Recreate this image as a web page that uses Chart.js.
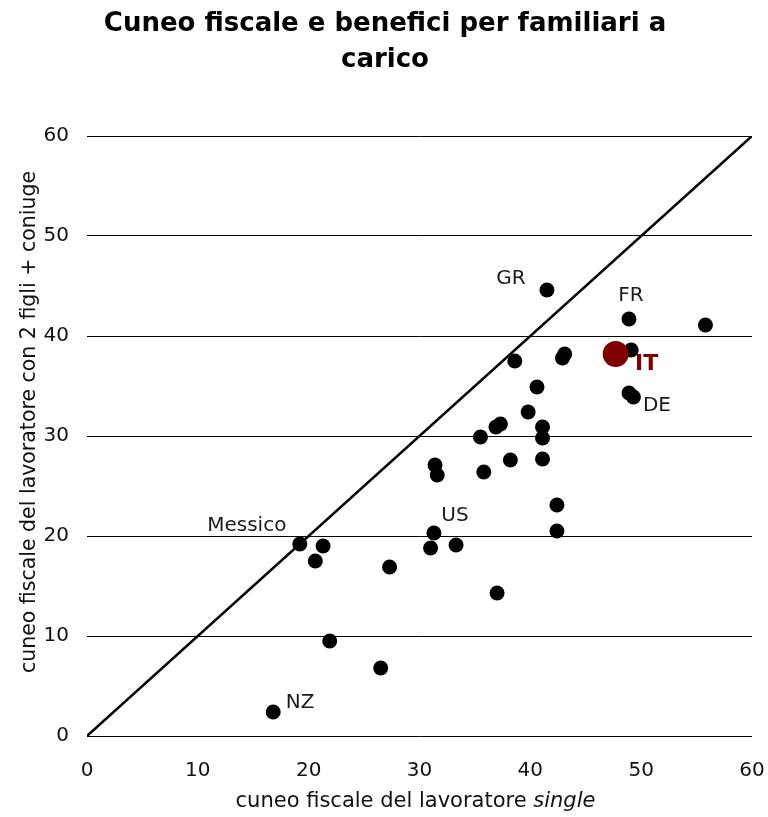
<!DOCTYPE html>
<html>
<head>
<meta charset="utf-8">
<script src="https://cdn.jsdelivr.net/npm/chart.js@4.4.1/dist/chart.umd.min.js"></script>
<style>
html,body{margin:0;padding:0;background:#fff;}
#wrap{width:768px;height:817px;position:relative;}
</style>
</head>
<body>
<div id="wrap"><canvas id="c" width="768" height="817"></canvas></div>
<script>
// Data: x = cuneo fiscale lavoratore single, y = cuneo fiscale lavoratore con 2 figli + coniuge
const countryX = [16.8, 21.9, 26.5, 19.2, 21.3, 20.6, 27.3, 31.3, 31.0, 33.3, 37.0, 42.4, 42.4,
  31.4, 31.6, 35.5, 35.8, 36.9, 37.3, 38.2, 39.8, 40.6, 38.6, 41.1, 41.1, 41.1, 42.9, 43.1,
  41.5, 48.9, 55.8, 49.1, 48.9, 49.3];
const countryY = [2.4, 9.5, 6.8, 19.2, 19.0, 17.5, 16.9, 20.3, 18.8, 19.1, 14.3, 23.1, 20.5,
  27.1, 26.1, 29.9, 26.4, 30.9, 31.2, 27.6, 32.4, 34.9, 37.5, 30.9, 29.8, 27.7, 37.8, 38.2,
  44.6, 41.7, 41.1, 38.6, 34.3, 33.9];
const countryLabels = ["NZ", "", "", "Messico", "", "", "", "US", "", "", "", "", "",
  "", "", "", "", "", "", "", "", "", "", "", "", "", "", "",
  "GR", "FR", "", "", "DE", ""];
const italyX = [47.7];
const italyY = [38.2];
const italyLabel = "IT";
const diagonal = [0, 60];
const tickValues = [0, 10, 20, 30, 40, 50, 60];
const titleLines = ["Cuneo fiscale e benefici per familiari a", "carico"];
const xTitleParts = [["cuneo fiscale del lavoratore ", false], ["single", true]];
const yTitle = "cuneo fiscale del lavoratore con 2 figli + coniuge";

const FONT = "'DejaVu Sans', Verdana, sans-serif";

const pts = countryX.map((x, i) => ({x: x, y: countryY[i]}));
const itPts = italyX.map((x, i) => ({x: x, y: italyY[i]}));
const diagPts = diagonal.map(v => ({x: v, y: v}));

// label offsets in pixels (style only)
const labelOffsets = {
  "NZ": [27, -9], "Messico": [-53, -18], "US": [21, -17],
  "GR": [-36, -11], "FR": [2, -23], "DE": [28, 13]
};

const textPlugin = {
  id: 'texts',
  afterDraw(chart) {
    const ctx = chart.ctx;
    const ca = chart.chartArea;
    ctx.save();
    // main title
    ctx.fillStyle = '#000';
    ctx.textAlign = 'center';
    ctx.textBaseline = 'alphabetic';
    ctx.font = "bold 26px " + FONT;
    ctx.fillText(titleLines[0], 385, 31);
    ctx.fillText(titleLines[1], 385, 67);

    // x axis title (with italic part)
    ctx.fillStyle = '#111';
    const fonts = xTitleParts.map(p => (p[1] ? "italic " : "") + "21px " + FONT);
    let total = 0;
    const widths = xTitleParts.map((p, i) => { ctx.font = fonts[i]; const w = ctx.measureText(p[0]).width; total += w; return w; });
    let xPos = (ca.left + ca.right) / 2 - 4 - total / 2;
    ctx.textAlign = 'left';
    xTitleParts.forEach((p, i) => { ctx.font = fonts[i]; ctx.fillText(p[0], xPos, 807); xPos += widths[i]; });

    // y axis title
    ctx.save();
    ctx.translate(35, 422);
    ctx.rotate(-Math.PI / 2);
    ctx.textAlign = 'center';
    ctx.font = "20.5px " + FONT;
    ctx.fillText(yTitle, 0, 0);
    ctx.restore();
    ctx.restore();
  },
  afterDatasetsDraw(chart) {
    const ctx = chart.ctx;
    const xs = chart.scales.x, ys = chart.scales.y;
    ctx.save();
    ctx.textAlign = 'center';
    ctx.textBaseline = 'middle';
    ctx.font = "20px " + FONT;
    ctx.fillStyle = '#1a1a1a';
    countryLabels.forEach((lab, i) => {
      if (!lab) return;
      const off = labelOffsets[lab] || [0, 0];
      ctx.fillText(lab, xs.getPixelForValue(countryX[i]) + off[0], ys.getPixelForValue(countryY[i]) + off[1]);
    });
    ctx.font = "bold 22px " + FONT;
    ctx.fillStyle = '#7f0000';
    ctx.fillText(italyLabel, xs.getPixelForValue(italyX[0]) + 31, ys.getPixelForValue(italyY[0]) + 10);
    ctx.restore();
  }
};

new Chart(document.getElementById('c'), {
  type: 'scatter',
  data: {
    datasets: [
      {
        label: 'IT', data: itPts, order: 0,
        pointRadius: 13, pointHoverRadius: 13,
        backgroundColor: '#7f0000', borderColor: '#7f0000', borderWidth: 0
      },
      {
        label: 'OCSE', data: pts, order: 1,
        pointRadius: 7.5, pointHoverRadius: 7.5,
        backgroundColor: '#000', borderColor: '#000', borderWidth: 0
      },
      {
        type: 'line', label: 'diag', data: diagPts, order: 2,
        borderColor: '#000', borderWidth: 2.5, pointRadius: 0, fill: false
      }
    ]
  },
  options: {
    responsive: false,
    animation: false,
    events: [],
    layout: { padding: { top: 136, right: 0, left: 0, bottom: 0 } },
    plugins: {
      legend: { display: false },
      tooltip: { enabled: false },
      title: { display: false }
    },
    scales: {
      x: {
        type: 'linear', min: 0, max: 60,
        afterBuildTicks: s => { s.ticks = tickValues.map(v => ({value: v})); },
        afterFit: s => { s.height = 81; s.paddingRight = 16; },
        grid: { display: false, drawTicks: false },
        border: { display: false },
        ticks: { color: '#111', font: { family: FONT, size: 20 }, padding: 23 },
        title: { display: false }
      },
      y: {
        type: 'linear', min: 0, max: 60,
        afterBuildTicks: s => { s.ticks = tickValues.map(v => ({value: v})); },
        afterFit: s => { s.width = 87; },
        grid: { display: true, color: '#000', lineWidth: 1, drawTicks: false },
        border: { display: false },
        ticks: { color: '#111', font: { family: FONT, size: 20 }, padding: 18 },
        title: { display: false }
      }
    }
  },
  plugins: [textPlugin]
});
</script>
</body>
</html>
